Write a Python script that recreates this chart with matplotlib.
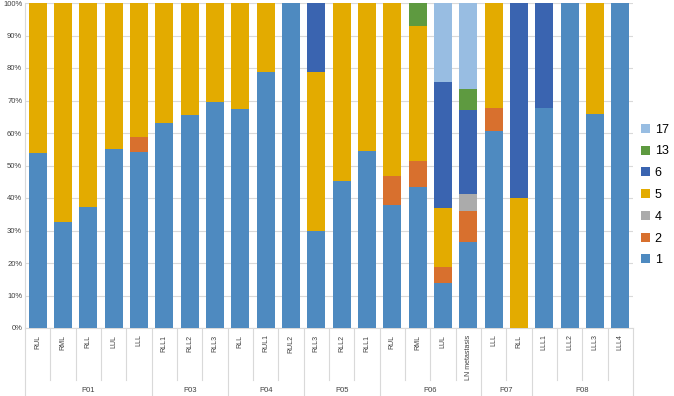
import numpy as np
import matplotlib.pyplot as plt

# categories (sample, patient)
samples = ['RUL', 'RML', 'RLL', 'LUL', 'LLL',
           'RLL1', 'RLL2', 'RLL3',
           'RLL', 'RUL1', 'RUL2',
           'RLL3', 'RLL2', 'RLL1',
           'RUL', 'RML', 'LUL', 'LN metastasis',
           'LLL', 'RLL',
           'LLL1', 'LLL2', 'LLL3', 'LLL4']
patients = ['P01', 'P03', 'P04', 'P05', 'P06', 'P07', 'P08']
group_sizes = [5, 3, 3, 3, 4, 2, 4]

# percentage of each clone
s1 = [54.0, 32.7, 37.3, 55.0, 54.3, 63.2, 65.6, 69.4, 67.4, 78.9, 100.0,
      29.8, 45.2, 54.6, 37.8, 43.5, 13.8, 26.5, 60.5, 0.0, 67.7, 100.0, 65.7, 100.0]
s2 = [0, 0, 0, 0, 4.5, 0, 0, 0, 0, 0, 0,
      0, 0, 0, 9.0, 7.8, 5.1, 9.4, 7.3, 0, 0, 0, 0, 0]
s4 = [0, 0, 0, 0, 0, 0, 0, 0, 0, 0, 0,
      0, 0, 0, 0, 0, 0, 5.4, 0, 0, 0, 0, 0, 0]
s5 = [46.0, 67.3, 62.7, 45.0, 41.2, 36.8, 34.4, 30.6, 32.6, 21.1, 0,
      48.9, 54.8, 45.4, 53.2, 41.5, 18.1, 0, 32.2, 40.1, 0, 0, 34.3, 0]
s6 = [0, 0, 0, 0, 0, 0, 0, 0, 0, 0, 0,
      21.3, 0, 0, 0, 0, 38.8, 25.9, 0, 59.9, 32.3, 0, 0, 0]
s13 = [0, 0, 0, 0, 0, 0, 0, 0, 0, 0, 0,
       0, 0, 0, 0, 7.2, 0, 6.3, 0, 0, 0, 0, 0, 0]
s17 = [0, 0, 0, 0, 0, 0, 0, 0, 0, 0, 0,
       0, 0, 0, 0, 0, 24.2, 26.5, 0, 0, 0, 0, 0, 0]

series = [('1', s1, '#4E8AC0'), ('2', s2, '#D8702E'), ('4', s4, '#ABABAB'),
          ('5', s5, '#E3AB00'), ('6', s6, '#3A64B0'), ('13', s13, '#5E9A40'),
          ('17', s17, '#98BDE2')]

plt.rcParams['font.family'] = ['Liberation Sans', 'DejaVu Sans']
fig = plt.figure(figsize=(6.74, 3.96), dpi=100)
ax = fig.add_axes([25/674, 68/396, 608/674, 325/396])

x = np.arange(len(samples))
bottom = np.zeros(len(samples))
handles = []
for name, vals, col in series:
    vals = np.array(vals, dtype=float)
    b = ax.bar(x, vals, 0.71, bottom=bottom, color=col, label=name, zorder=3)
    bottom += vals
    handles.append(b)

ax.set_xlim(-0.5, len(samples) - 0.5)
ax.set_ylim(0, 100)
ax.set_yticks(np.arange(0, 101, 10))
ax.set_yticklabels(['%d%%' % v for v in range(0, 101, 10)], fontsize=5.5, color='#404040')
ax.yaxis.grid(True, color='#D9D9D9', lw=0.8, zorder=0)
ax.tick_params(axis='y', length=0, pad=2)
ax.tick_params(axis='x', length=0)
ax.set_xticks([])
for s in ['top', 'right']:
    ax.spines[s].set_visible(False)
ax.spines['left'].set_color('#D9D9D9')
ax.spines['bottom'].set_color('#D9D9D9')

# two-level category axis
tr = ax.get_xaxis_transform()
for i, lab in enumerate(samples):
    ax.text(i, -0.02, lab, transform=tr, rotation=90, ha='center', va='top',
            fontsize=5, color='#404040')
edges = np.cumsum([0] + group_sizes) - 0.5
for i in range(len(samples) + 1):
    xe = i - 0.5
    depth = -68/325 if xe in edges else -52/325
    ax.plot([xe, xe], [0, depth], transform=tr, color='#D9D9D9', lw=0.8, clip_on=False)
for g, lab in enumerate(patients):
    mid = (edges[g] + edges[g + 1]) / 2
    ax.text(mid, -63/325, lab, transform=tr, ha='center', va='center',
            fontsize=5.5, color='#404040')

leg = fig.legend(handles[::-1], [h.get_label() for h in handles[::-1]],
                 loc='center left', bbox_to_anchor=(641/674, 201/396), frameon=False,
                 fontsize=9, handlelength=0.75, handleheight=0.75, borderpad=0,
                 borderaxespad=0, handletextpad=0.35, labelspacing=0.78)

plt.savefig('out.png', dpi=100)
